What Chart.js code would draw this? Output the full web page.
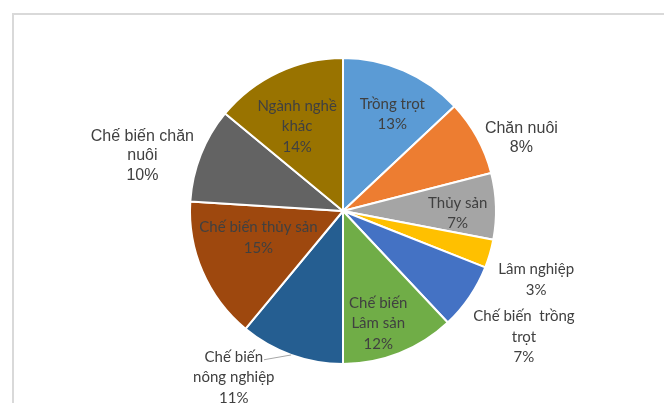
<!DOCTYPE html>
<html>
<head>
<meta charset="utf-8">
<script src="https://cdn.jsdelivr.net/npm/chart.js@4/dist/chart.umd.min.js"></script>
<style>
  html, body { margin: 0; padding: 0; background: #fff; }
  #frame {
    position: absolute; left: 12px; top: 13px; width: 660px; height: 400px;
    border-left: 2px solid #d9d9d9; border-top: 2px solid #d9d9d9;
  }
  #wrap { position: absolute; left: 0; top: 0; width: 664px; height: 403px; }
</style>
</head>
<body>
<div id="frame"></div>
<div id="wrap"><canvas id="pieChart"></canvas></div>
<script>
// Données du graphique (en %)
const categories = [
  ['Trồng trọt'],
  ['Chăn nuôi'],
  ['Thủy sản'],
  ['Lâm nghiệp'],
  ['Chế biến  trồng', 'trọt'],
  ['Chế biến', 'Lâm sản'],
  ['Chế biến', 'nông nghiệp'],
  ['Chế biến thủy sản'],
  ['Chế biến chăn', 'nuôi'],
  ['Ngành nghề', 'khác']
];
const values = [13, 8, 7, 3, 7, 12, 11, 15, 10, 14];
const colors = ['#5B9BD5', '#ED7D31', '#A5A5A5', '#FFC000', '#4472C4',
                '#70AD47', '#255E91', '#9E480E', '#636363', '#997300'];

// placement des étiquettes : rayon relatif, décalage angulaire (deg), police, ligne de rappel
const labelPlacement = [
  { r: 0.71, shift: 3.6,  font: 'lato' },
  { r: 1.26, shift: 6.5,  font: 'arial' },
  { r: 0.75, shift: 2.8,  font: 'lato' },
  { r: 1.34, shift: 3.4,  font: 'lato' },
  { r: 1.44, shift: 0.6,  font: 'lato' },
  { r: 0.77, shift: 4.2,  font: 'lato' },
  { r: 1.30, shift: 13.5, font: 'lato', leader: true },
  { r: 0.58, shift: 5.8,  font: 'lato' },
  { r: 1.36, shift: -6.2, font: 'arial' },
  { r: 0.63, shift: -3.2, font: 'lato' }
];

const fonts = {
  lato: { css: '15px Lato', lh: 20.5 },
  arial: { css: '16px "Liberation Sans", Arial', lh: 19.5 }
};

const pieLabels = {
  id: 'pieLabels',
  afterDatasetsDraw(chart) {
    const ctx = chart.ctx;
    const meta = chart.getDatasetMeta(0);
    ctx.save();
    ctx.fillStyle = '#404040';
    ctx.textAlign = 'center';
    ctx.textBaseline = 'middle';
    meta.data.forEach((arc, i) => {
      const p = labelPlacement[i];
      const f = fonts[p.font];
      const mid = (arc.startAngle + arc.endAngle) / 2;
      const ang = mid + p.shift * Math.PI / 180;
      const cx = arc.x + Math.cos(ang) * arc.outerRadius * p.r;
      const cy = arc.y + Math.sin(ang) * arc.outerRadius * p.r;
      const lines = categories[i].concat([values[i] + '%']);
      const y0 = cy - (lines.length - 1) * f.lh / 2;
      ctx.font = f.css;
      lines.forEach((t, k) => ctx.fillText(t, cx, y0 + k * f.lh));
      if (p.leader) {
        const w = ctx.measureText(lines[0]).width;
        const ex = arc.x + Math.cos(mid) * arc.outerRadius;
        const ey = arc.y + Math.sin(mid) * arc.outerRadius;
        ctx.beginPath();
        ctx.strokeStyle = '#a6a6a6';
        ctx.lineWidth = 1;
        ctx.moveTo(cx + w / 2 + 1, y0 + 3);
        ctx.lineTo(ex, ey);
        ctx.stroke();
      }
    });
    ctx.restore();
  }
};

new Chart(document.getElementById('pieChart').getContext('2d'), {
  type: 'pie',
  data: {
    labels: categories,
    datasets: [{
      data: values,
      backgroundColor: colors,
      borderColor: '#ffffff',
      borderWidth: 2
    }]
  },
  options: {
    responsive: true,
    maintainAspectRatio: false,
    animation: false,
    layout: { padding: { top: 57, bottom: 38, left: 189, right: 167 } },
    plugins: {
      legend: { display: false },
      tooltip: { enabled: false }
    }
  },
  plugins: [pieLabels]
});
</script>
</body>
</html>
